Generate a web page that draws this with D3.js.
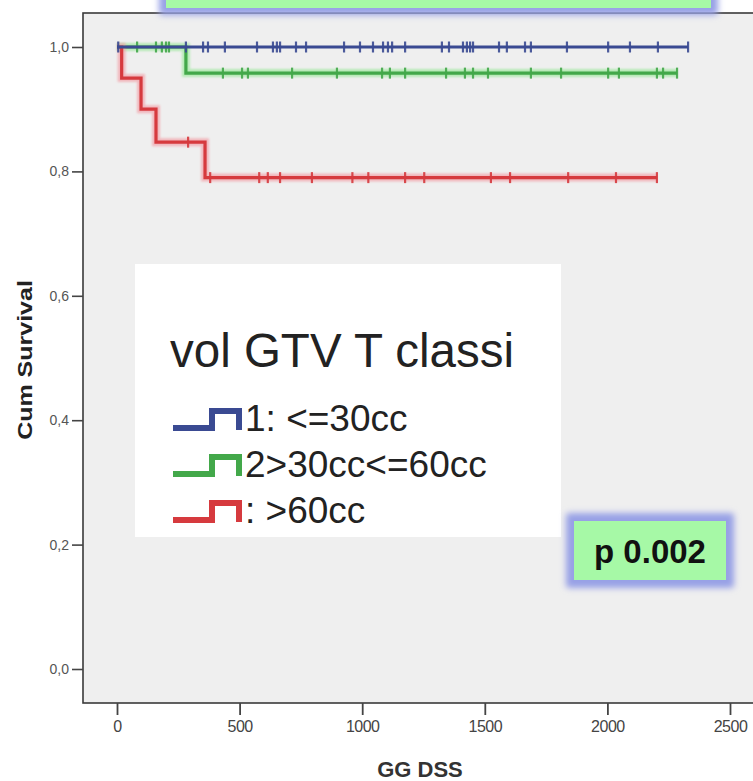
<!DOCTYPE html>
<html>
<head>
<meta charset="utf-8">
<script src="https://cdn.jsdelivr.net/npm/d3@7"></script>
<style>
  html, body { margin: 0; padding: 0; background: #ffffff; }
  svg { display: block; }
</style>
</head>
<body>
<div id="chart"></div>
<script>
// ---------- data ----------
const groupNames = ["1: <=30cc", "2>30cc<=60cc", ": >60cc"];
const groupColors = ["#3a4a92", "#43a84a", "#d63a3e"];
const groupHalo = ["#9aa6e0", "#9ee89e", "#f2a0a8"];

// Kaplan-Meier steps: [time, survival] (survival after event at that time)
const blueSteps  = [[0, 1.0]];
const greenSteps = [[0, 1.0], [281, 0.958]];
const redSteps   = [[0, 1.0], [19, 0.95], [98, 0.90], [159, 0.847], [359, 0.79]];
const groupEnd   = [2329, 2284, 2202];

// censored times
const blueCensor  = [5, 281, 351, 371, 440, 571, 636, 652, 665, 730, 771, 926, 991, 1044, 1085, 1105, 1122, 1175, 1325, 1354, 1411, 1427, 1440, 1452, 1558, 1590, 1664, 1688, 1835, 2003, 2092, 2206, 2329];
const greenCensor = [82, 159, 183, 200, 212, 432, 510, 534, 714, 897, 1081, 1113, 1175, 1342, 1419, 1452, 1513, 1688, 1811, 2003, 2047, 2202, 2227, 2284];
const redCensor   = [290, 380, 580, 615, 665, 795, 960, 1025, 1175, 1253, 1525, 1603, 1840, 2035, 2202];

const xTicks = [0, 500, 1000, 1500, 2000, 2500];
const yTicks = [0, 0.2, 0.4, 0.6, 0.8, 1.0];
const legendTitle = "vol GTV T classi";
const pText = "p 0.002";
const xTitle = "GG DSS";
const yTitle = "Cum Survival";

// ---------- layout ----------
const W = 753, H = 781;
const plot = { left: 83, top: 13, right: 762, bottom: 703 };

const svg = d3.select("#chart").append("svg")
  .attr("width", W).attr("height", H);

const defs = svg.append("defs");
defs.append("filter").attr("id", "glow").attr("x", "-20%").attr("y", "-50%").attr("width", "140%").attr("height", "200%")
  .append("feGaussianBlur").attr("stdDeviation", 3);
defs.append("filter").attr("id", "soft").attr("x", "-5%").attr("y", "-50%").attr("width", "110%").attr("height", "200%")
  .append("feGaussianBlur").attr("stdDeviation", 1.3);

const x = d3.scaleLinear().domain([0, 2500]).range([117, 730]);
const y = d3.scaleLinear().domain([0, 1]).range([669, 47]);

// plot background & frame
svg.append("rect")
  .attr("x", plot.left).attr("y", plot.top)
  .attr("width", plot.right - plot.left).attr("height", plot.bottom - plot.top)
  .attr("fill", "#efefef").attr("stroke", "#3a3a3a").attr("stroke-width", 1.6);

// axes
const xAxis = svg.append("g")
  .attr("transform", `translate(0,${plot.bottom})`)
  .call(d3.axisBottom(x).tickValues(xTicks).tickSize(12).tickPadding(6).tickFormat(d3.format("d")));
xAxis.select(".domain").remove();
xAxis.selectAll("line").attr("stroke", "#444").attr("stroke-width", 1.8);
xAxis.selectAll("text").attr("font-family", "Liberation Sans, Arial, sans-serif")
  .attr("font-size", 16).attr("fill", "#444").attr("letter-spacing", "-0.5px");

const fmtComma = d => d3.format(".1f")(d).replace(".", ",");
const yAxis = svg.append("g")
  .attr("transform", `translate(${plot.left},0)`)
  .call(d3.axisLeft(y).tickValues(yTicks).tickSize(11).tickPadding(3).tickFormat(fmtComma));
yAxis.select(".domain").remove();
yAxis.selectAll("line").attr("stroke", "#444").attr("stroke-width", 1.6);
yAxis.selectAll("text").attr("font-family", "Liberation Sans, Arial, sans-serif")
  .attr("font-size", 14).attr("fill", "#555");

// axis titles
svg.append("text")
  .attr("x", 420).attr("y", 777).attr("text-anchor", "middle")
  .attr("font-family", "Liberation Sans, Arial, sans-serif").attr("font-weight", "bold")
  .attr("font-size", 22).attr("fill", "#333").text(xTitle);
svg.append("text")
  .attr("transform", "translate(32,360) rotate(-90) scale(1.25,1)").attr("text-anchor", "middle")
  .attr("font-family", "Liberation Sans, Arial, sans-serif").attr("font-weight", "bold")
  .attr("font-size", 20).attr("fill", "#222").text(yTitle);

// ---------- curves ----------
const allSteps = [blueSteps, greenSteps, redSteps];
const allCensor = [blueCensor, greenCensor, redCensor];

function survAt(steps, t) {
  let s = steps[0][1];
  for (const [tt, v] of steps) { if (tt <= t) s = v; }
  return s;
}
function stepPoints(steps, end) {
  const pts = [];
  steps.forEach(([t, v], i) => {
    if (i > 0) pts.push([t, steps[i - 1][1]]);
    pts.push([t, v]);
  });
  pts.push([end, steps[steps.length - 1][1]]);
  return pts;
}
const line = d3.line().x(d => x(d[0])).y(d => y(d[1]));

// draw in order green, red, blue (blue on top at 1.0)
[1, 2, 0].forEach(gi => {
  const pts = stepPoints(allSteps[gi], groupEnd[gi]);
  const g = svg.append("g");
  g.append("path").attr("d", line(pts)).attr("fill", "none")
    .attr("stroke", groupHalo[gi]).attr("stroke-width", 8).attr("opacity", 0.7).attr("filter", "url(#soft)");
  g.append("path").attr("d", line(pts)).attr("fill", "none")
    .attr("stroke", groupColors[gi]).attr("stroke-width", 3.2);
  g.selectAll("line.c").data(allCensor[gi]).enter().append("line")
    .attr("x1", d => x(d)).attr("x2", d => x(d))
    .attr("y1", d => y(survAt(allSteps[gi], d)) - 5.5)
    .attr("y2", d => y(survAt(allSteps[gi], d)) + 5.5)
    .attr("stroke", groupColors[gi]).attr("stroke-width", 2.2).attr("opacity", 0.9);
});

// ---------- glow boxes ----------
function glowBox(x0, y0, x1, y1, pad) {
  svg.append("rect").attr("x", x0 - pad).attr("y", y0 - pad)
    .attr("width", x1 - x0 + 2 * pad).attr("height", y1 - y0 + 2 * pad)
    .attr("rx", 3).attr("fill", "#97a0e6").attr("filter", "url(#glow)");
  svg.append("rect").attr("x", x0).attr("y", y0)
    .attr("width", x1 - x0).attr("height", y1 - y0).attr("fill", "#a6f9a6");
}
glowBox(166, -20, 711, 8, 7);

// ---------- legend ----------
svg.append("rect").attr("x", 135).attr("y", 264).attr("width", 426).attr("height", 273).attr("fill", "#ffffff");
svg.append("text").attr("x", 170).attr("y", 367)
  .attr("font-family", "Liberation Sans, Arial, sans-serif").attr("font-size", 47.5)
  .attr("fill", "#222").text(legendTitle);

groupNames.forEach((name, i) => {
  const base = 431 + i * 46;
  const lo = base - 3, hi = base - 20;
  svg.append("path")
    .attr("d", d3.line()([[173, lo], [212, lo], [212, hi], [239, hi], [239, lo + 2]]))
    .attr("fill", "none").attr("stroke", groupColors[i]).attr("stroke-width", 6)
    .attr("stroke-linejoin", "miter");
  svg.append("text").attr("x", 245).attr("y", base)
    .attr("font-family", "Liberation Sans, Arial, sans-serif").attr("font-size", 37)
    .attr("fill", "#222").text(name);
});

// ---------- p value box ----------
glowBox(574, 521, 726, 580, 8);
svg.append("text").attr("x", 650).attr("y", 563).attr("text-anchor", "middle")
  .attr("font-family", "Liberation Sans, Arial, sans-serif").attr("font-weight", "bold")
  .attr("font-size", 33).attr("fill", "#111").text(pText);
</script>
</body>
</html>
